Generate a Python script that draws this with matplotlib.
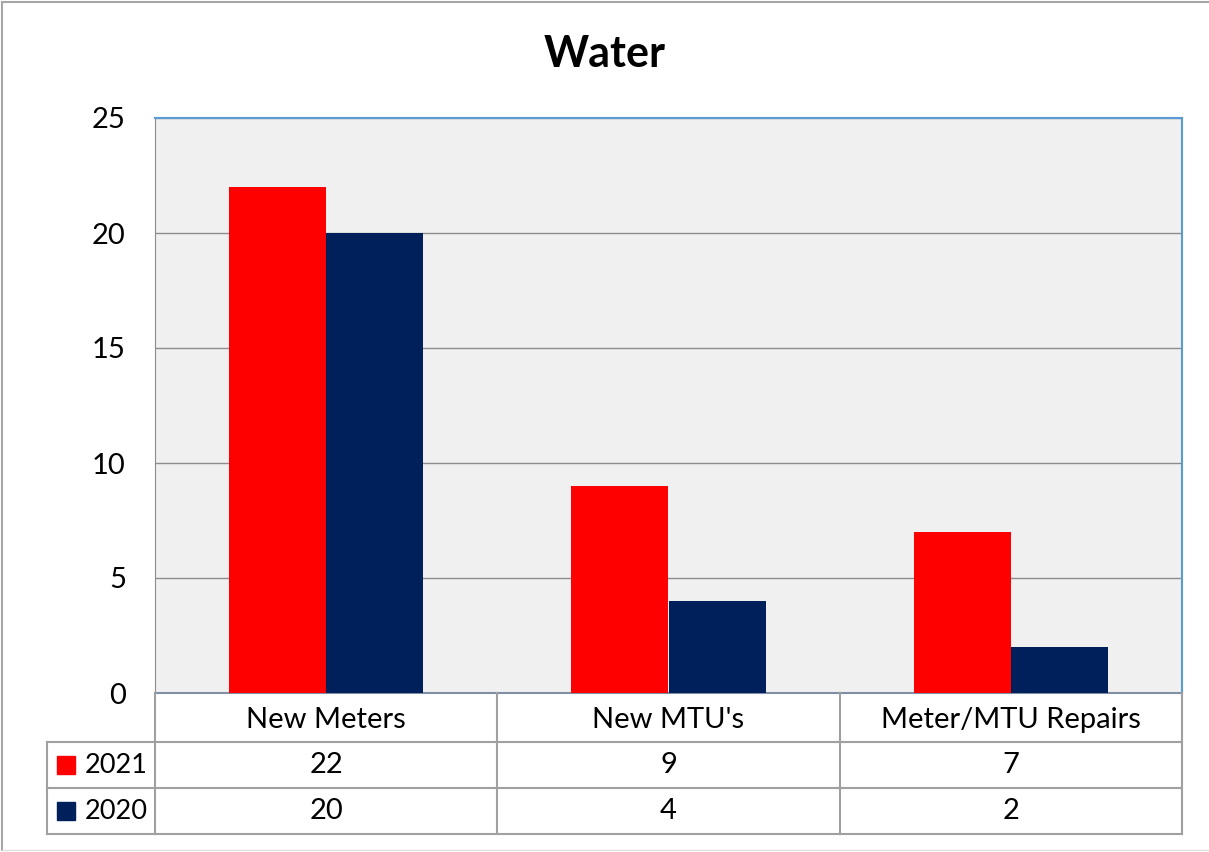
import matplotlib.pyplot as plt
from matplotlib.patches import Rectangle
from matplotlib.lines import Line2D

plt.rcParams['font.family'] = ['Lato', 'DejaVu Sans']

categories = ["New Meters", "New MTU's", "Meter/MTU Repairs"]
series_names = ["2021", "2020"]
values_2021 = [22, 9, 7]
values_2020 = [20, 4, 2]
colors = ["#ff0000", "#00205b"]

W, H = 1209, 852
fig = plt.figure(figsize=(W / 100, H / 100), dpi=100)

# pixel layout of plot area and data table
px_left, px_right = 155, 1182
px_top, px_bottom = 118, 693
tbl_left, tbl_bottom = 47, 834
row_edges = [693, 742, 788, 834]
fsize = 21

def fx(x):
    return x / W

def fy(y):
    return 1 - y / H

# outer chart border (top, left, bottom)
border_kw = dict(transform=fig.transFigure, color="#a6a6a6", lw=1.5)
fig.add_artist(Line2D([fx(2), 1], [fy(2), fy(2)], **border_kw))
fig.add_artist(Line2D([fx(2), fx(2)], [fy(2), fy(850)], **border_kw))
fig.add_artist(Line2D([fx(2), 1], [fy(850), fy(850)],
                      transform=fig.transFigure, color="#e0e0e0", lw=1))

ax = fig.add_axes([fx(px_left), fy(px_bottom), fx(px_right - px_left),
                   fy(px_top) - fy(px_bottom)])
ax.set_facecolor("#f0f0f0")

n = len(categories)
bar_w = 0.284
xs = list(range(n))
ax.bar([x - bar_w / 2 for x in xs], values_2021, bar_w, color=colors[0], zorder=3)
ax.bar([x + bar_w / 2 for x in xs], values_2020, bar_w, color=colors[1], zorder=3)

ax.set_xlim(-0.5, n - 0.5)
ax.set_ylim(0, 25)
ax.set_yticks([0, 5, 10, 15, 20, 25])
ax.yaxis.grid(True, color="#8c8c8c", lw=1)
ax.set_axisbelow(True)
ax.set_xticks([])
ax.tick_params(axis="y", length=0, pad=21, labelsize=fsize)
for s in ["top", "right"]:
    ax.spines[s].set_color("#5b9bd5")
    ax.spines[s].set_linewidth(1.5)
ax.spines["left"].set_color("#8c8c8c")
ax.spines["bottom"].set_color("#7f8fa6")
ax.spines["bottom"].set_linewidth(1.5)

fig.text(0.5, fy(54), "Water", ha="center", va="center",
         fontsize=31, fontweight="bold")

# data table under the plot
tax = fig.add_axes([fx(tbl_left), fy(tbl_bottom), fx(px_right - tbl_left),
                    fy(row_edges[0]) - fy(tbl_bottom)])
cat_w = (px_right - px_left) / n
tax.set_xlim(-0.5 - (px_left - tbl_left) / cat_w, n - 0.5)
tax.set_ylim(row_edges[-1], row_edges[0])
tax.axis("off")

line_kw = dict(color="#a0a0a0", lw=1.5, clip_on=False)
x_lo = tax.get_xlim()[0]
for y in row_edges[1:]:
    tax.plot([x_lo, n - 0.5], [y, y], **line_kw)
for i in range(n + 1):
    tax.plot([i - 0.5, i - 0.5], [row_edges[0], row_edges[-1]], **line_kw)
tax.plot([x_lo, x_lo], [row_edges[1], row_edges[-1]], **line_kw)

for i, c in enumerate(categories):
    tax.text(i, (row_edges[0] + row_edges[1]) / 2 + 2, c, ha="center",
             va="center", fontsize=fsize)

for r, (name, vals, col) in enumerate(zip(series_names,
                                          [values_2021, values_2020], colors)):
    yc = (row_edges[r + 1] + row_edges[r + 2]) / 2
    for i, v in enumerate(vals):
        tax.text(i, yc, str(v), ha="center", va="center", fontsize=fsize)
    tax.text(-0.5 - 7 / cat_w, yc, name, ha="right", va="center", fontsize=19.5)
    tax.add_patch(Rectangle((x_lo + 10 / cat_w, yc - 9), 18 / cat_w, 18,
                            color=col, clip_on=False))

fig.savefig("out.png", dpi=100)
